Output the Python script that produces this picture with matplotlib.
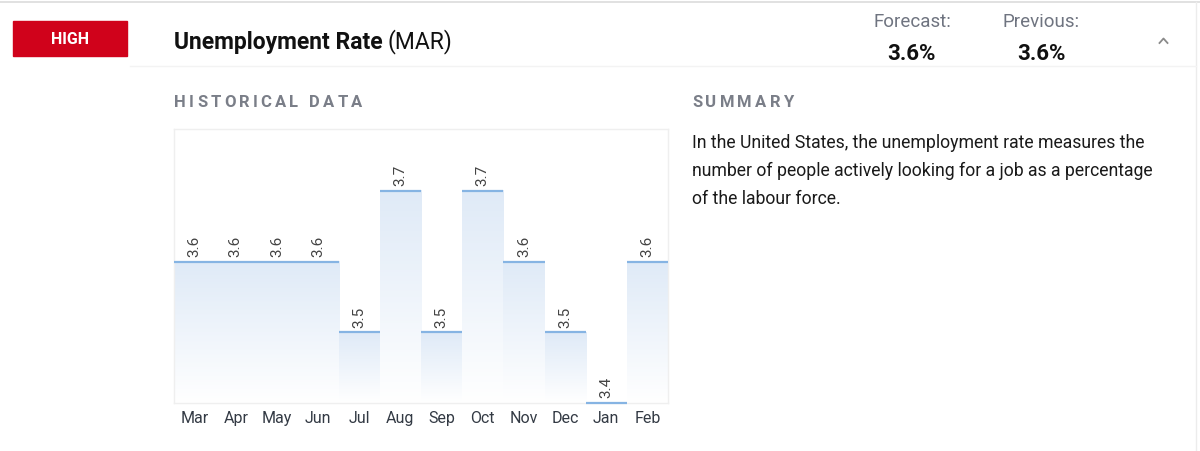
import numpy as np
import matplotlib
matplotlib.use("Agg")
import matplotlib.pyplot as plt
from matplotlib.colors import LinearSegmentedColormap
from matplotlib.patches import Rectangle
from matplotlib.lines import Line2D

plt.rcParams['font.family'] = ['Roboto', 'DejaVu Sans']

# data
months = ['Mar', 'Apr', 'May', 'Jun', 'Jul', 'Aug', 'Sep', 'Oct', 'Nov', 'Dec', 'Jan', 'Feb']
rates = [3.6, 3.6, 3.6, 3.6, 3.5, 3.7, 3.5, 3.7, 3.6, 3.5, 3.4, 3.6]
forecast = '3.6%'
previous = '3.6%'
summary_lines = [
    'In the United States, the unemployment rate measures the',
    'number of people actively looking for a job as a percentage',
    'of the labour force.',
]

W, H = 1200, 452
fig = plt.figure(figsize=(W / 100, H / 100), dpi=100)
fig.patch.set_facecolor('white')


def fx(x):
    return x / W


def fy(y):
    return 1 - y / H


def spaced_text(x, y, s, size, color, spacing):
    # draw letters one by one to get letter spacing
    r = fig.canvas.get_renderer()
    cur = x
    for ch in s:
        t = fig.text(fx(cur), fy(y), ch, fontsize=size, fontweight='bold',
                     color=color, va='center', ha='left')
        w = t.get_window_extent(renderer=r).width
        if ch == ' ':
            w = size * 0.35
        cur += w + spacing


# header frame lines
fig.add_artist(Line2D([0, 1], [fy(3), fy(3)], color='#dcdcdc', lw=1.2))
fig.add_artist(Line2D([fx(1196), fx(1196)], [fy(3), 0], color='#ececec', lw=1))
fig.add_artist(Line2D([fx(130), fx(1196)], [fy(67), fy(67)], color='#f3f3f3', lw=1))

# importance badge
fig.add_artist(Rectangle((fx(13), fy(57)), fx(114), 35 / H, color='#d0021b'))
fig.text(fx(70), fy(40), 'HIGH', color='white', fontsize=11.5, fontweight='bold',
         ha='center', va='center')

# title
t = fig.text(fx(174), fy(42), 'Unemployment Rate', fontsize=16.5, fontweight='bold',
             color='#111111', va='center', ha='left')
r = fig.canvas.get_renderer()
tw = t.get_window_extent(renderer=r).width
fig.text(fx(174 + tw + 5), fy(42), '(MAR)', fontsize=16.5, color='#111111',
         va='center', ha='left')

# forecast / previous
fig.text(fx(912), fy(22), 'Forecast:', fontsize=13.5, color='#6f7480', ha='center', va='center')
fig.text(fx(912), fy(54), forecast, fontsize=16, fontweight='bold', color='#111111',
         ha='center', va='center')
fig.text(fx(1041), fy(22), 'Previous:', fontsize=13.5, color='#6f7480', ha='center', va='center')
fig.text(fx(1041), fy(54), previous, fontsize=16, fontweight='bold', color='#111111',
         ha='center', va='center')
# collapse chevron
fig.add_artist(Line2D([fx(1159.5), fx(1163.5), fx(1167.5)], [fy(44), fy(39.5), fy(44)],
                      color='#8a8a8a', lw=1.3))

# section headings
spaced_text(174, 103, 'HISTORICAL DATA', 12, '#7a7e88', 3.2)
spaced_text(692, 103, 'SUMMARY', 12, '#7a7e88', 3.2)

for i, line in enumerate(summary_lines):
    fig.text(fx(692), fy(143 + 28 * i), line, fontsize=12.7, color='#1a1a1a',
             ha='left', va='center')

# chart
ax = fig.add_axes([fx(174), fy(404), fx(494), (404 - 130) / H])
ymin = 3.4
ymax = 3.4 + 274 / 706.7
cmap = LinearSegmentedColormap.from_list('bar', ['#ffffff', '#dfeaf7'])
grad = np.linspace(0, 1, 200).reshape(-1, 1)

for i, v in enumerate(rates):
    if v > ymin:
        ax.imshow(grad, extent=[i, i + 1, ymin, v], origin='lower', aspect='auto',
                  cmap=cmap, vmin=0, vmax=1, zorder=1)
    ax.plot([i, i + 1], [v, v], color='#86b4e3', lw=1.6, zorder=3, clip_on=False,
            solid_capstyle='butt')
    ax.annotate(f'{v:.1f}', (i + 0.5, v), xytext=(0, 4), textcoords='offset points',
                rotation=90, ha='center', va='bottom', fontsize=11, color='#444444')

ax.set_xlim(0, len(rates))
ax.set_ylim(ymin, ymax)
ax.set_xticks(np.arange(len(months)) + 0.5)
ax.set_xticklabels(months, fontsize=11.5, color='#333a44')
ax.tick_params(axis='x', length=0, pad=5)
ax.set_yticks([])
for s in ax.spines.values():
    s.set_color('#efefef')
    s.set_linewidth(1)
ax.set_facecolor('white')

fig.savefig('out.png', dpi=100, facecolor='white')
